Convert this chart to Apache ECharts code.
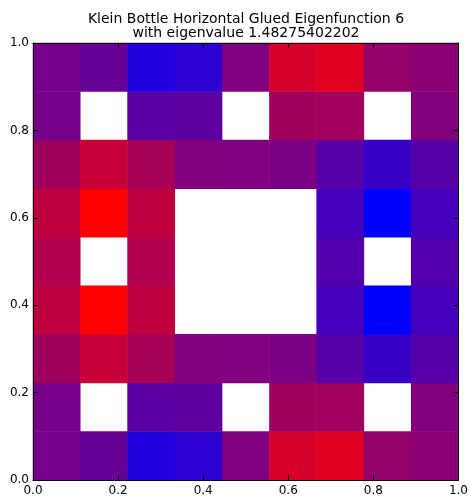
<!DOCTYPE html>
<html><head><meta charset="utf-8">
<script src="https://cdn.jsdelivr.net/npm/echarts@6/dist/echarts.min.js"></script>
<style>html,body{margin:0;padding:0;background:#fff}#c{width:471px;height:497px}</style>
</head><body><div id="c"></div>
<script>
// grid cell indices (columns left->right, rows bottom->top)
const cols = [0,1,2,3,4,5,6,7,8];
const rows = [0,1,2,3,4,5,6,7,8];
// eigenfunction values per row, listed top row first; null = masked (white)
const row8 = [-0.09,-0.18,-0.75,-0.65, 0.00, 0.67, 0.76, 0.17, 0.08];
const row7 = [-0.08, null,-0.29,-0.26, null, 0.25, 0.27, null, 0.03];
const row6 = [ 0.25, 0.57, 0.31, 0.03, 0.00,-0.03,-0.31,-0.56,-0.31];
const row5 = [ 0.50, 1.00, 0.49, null, null, null,-0.47,-1.00,-0.47];
const row4 = [ 0.38, null, 0.38, null, null, null,-0.36, null,-0.36];
const row3 = [ 0.50, 1.00, 0.49, null, null, null,-0.47,-1.00,-0.47];
const row2 = [ 0.25, 0.57, 0.31, 0.03, 0.00,-0.03,-0.31,-0.56,-0.31];
const row1 = [-0.08, null,-0.29,-0.26, null, 0.25, 0.27, null, 0.03];
const row0 = [-0.09,-0.18,-0.75,-0.65, 0.00, 0.67, 0.76, 0.17, 0.08];
const grid = [row0,row1,row2,row3,row4,row5,row6,row7,row8];
const tickValues = [0.0,0.2,0.4,0.6,0.8,1.0];
const titleText = 'Klein Bottle Horizontal Glued Eigenfunction 6\nwith eigenvalue 1.48275402202';

const data = [];
rows.forEach(r => cols.forEach(c => {
  const v = grid[r][c];
  data.push([c, r, v === null ? '-' : v]);
}));

const FONT = 'DejaVu Sans';
const chart = echarts.init(document.getElementById('c'), null, {renderer:'canvas'});
const valAxisBase = {
  type:'value', min:0, max:1, interval:0.2, z:10,
  axisLine:{show:true, onZero:false, lineStyle:{color:'#000', width:1}},
  axisTick:{show:true, inside:true, length:5, lineStyle:{color:'#000'}},
  splitLine:{show:false},
  axisLabel:{show:true, color:'#000', fontFamily:FONT, fontSize:12,
    formatter: v => v.toFixed(1)}
};
chart.setOption({
  animation:false,
  backgroundColor:'#fff',
  title:{text:titleText, left:246, top:12, padding:0, textAlign:'center',
    textStyle:{fontFamily:FONT, fontSize:14, fontWeight:'normal', color:'#000', lineHeight:14}},
  grid:{left:33, top:43, width:426, height:439},
  visualMap:{show:false, min:-1, max:1, dimension:2, seriesIndex:0,
    inRange:{color:['#0000ff','#ff0000']}},
  xAxis:[
    {type:'category', data:cols, show:false, gridIndex:0},
    Object.assign({}, valAxisBase, {position:'bottom', axisLabel:Object.assign({}, valAxisBase.axisLabel, {margin:5})}),
    Object.assign({}, valAxisBase, {position:'top', axisLabel:{show:false}})
  ],
  yAxis:[
    {type:'category', data:rows, show:false, gridIndex:0},
    Object.assign({}, valAxisBase, {position:'left', axisLabel:Object.assign({}, valAxisBase.axisLabel, {margin:4})}),
    Object.assign({}, valAxisBase, {position:'right', axisLabel:{show:false}})
  ],
  series:[{type:'heatmap', xAxisIndex:0, yAxisIndex:0, data:data,
    itemStyle:{borderWidth:0}, emphasis:{disabled:true}}]
});
</script></body></html>
